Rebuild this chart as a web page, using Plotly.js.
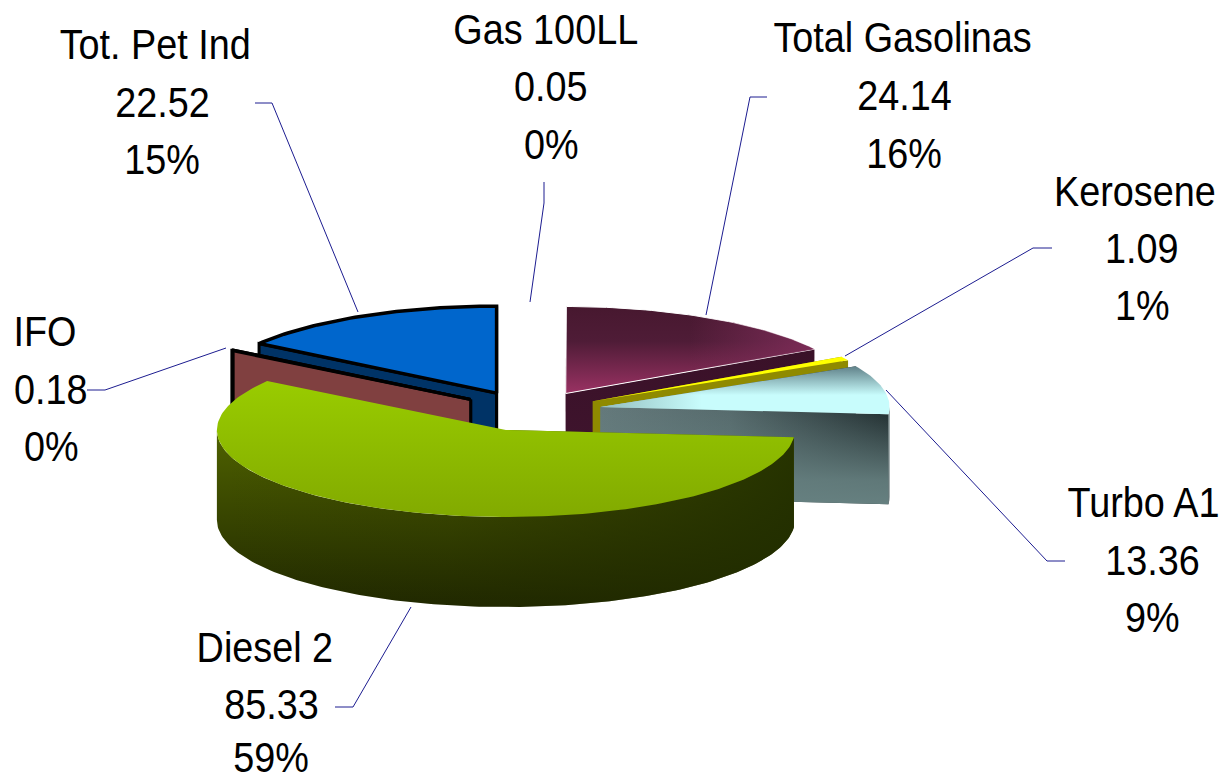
<!DOCTYPE html>
<html><head><meta charset="utf-8">
<script src="https://cdn.plot.ly/plotly-3.0.0.min.js"></script>
<style>html,body{margin:0;padding:0;background:#fff}#chart{width:1225px;height:780px}</style>
</head><body><div id="chart"></div>
<script>
// ---- data ----
const categories = ['Gas 100LL','Total Gasolinas','Kerosene','Turbo A1','Diesel 2','IFO','Tot. Pet Ind'];
const values     = [0.05, 24.14, 1.09, 13.36, 85.33, 0.18, 22.52];
const valueLabels= ['0.05','24.14','1.09','13.36','85.33','0.18','22.52'];
const percents   = ['0%','16%','1%','9%','59%','0%','15%'];

// ---- label placement ----
const nameX  = [546, 902, 1135, 1143, 265, 45, 155];
const valueX = [551, 904, 1142, 1152, 271, 51, 162];
const lineY  = [[29,86,144],[37,95,153],[191,248,305],[502,560,617],[647,704,757],[331,389,446],[44,102,159]];

// ---- leader lines ----
const leaderX = [[544,544,530],[767,750,706],[1052,1033,845],[1065,1047,886],[335,353,411],[87,105,226],[255,272,358]];
const leaderY = [[182,203,302],[97,97,315],[248,248,356],[561,561,390],[707,707,607],[390,390,348],[103,103,312]];

// ---- pie geometry ----
const cx=530, cy=411, rx=289, ry=87, depth=90, explode=72, tiltPull=0.28;

// ---- styles by slice: colour stops run from screen top to bottom ----
const topFill = [
 {color:'#ffffff'},
 {grad:[[0,'#47182f'],[0.4,'#4f1c37'],[1,'#9a3263']], line:'#ffffff', lw:1,
  over:[[0,'rgba(122,44,85,0)'],[0.5,'rgba(122,44,85,0)'],[1,'rgba(125,44,88,0.95)']]},
 {color:'#ffff00'},
 {grad:[[0,'#5f8088'],[0.6,'#c8fcfc'],[1,'#c8fcfc']],
  over:[[0,'rgba(130,170,172,0.75)'],[0.35,'rgba(130,170,172,0)'],[1,'rgba(130,170,172,0)']]},
 {grad:[[0,'#99cc00'],[1,'#82aa00']]},
 {color:'#000000', line:'#000000', lw:3},
 {color:'#0066cc', line:'#000000', lw:3.5}
];
const wallFill = [
 {color:'#ffffff'},
 {grad:[[0,'#3a1128'],[1,'#40152f']]},
 {color:'#8f8a00'},
 {hgrad:[[0,'#64797b'],[0.45,'#566a6c'],[1,'#1f2b2d']],
  vover:[[0,'rgba(102,128,128,0)'],[0.75,'rgba(102,128,128,0.9)'],[1,'rgba(102,128,128,1)']]},
 {grad:[[0,'#4f6200'],[0.4,'#3c4a00'],[1,'#202800']]},
 {color:'#804040', line:'#000000', lw:3},
 {color:'#003366', line:'#000000', lw:3}
];
const rimFill = {3:{color:'#566a6c'}};

// ---- build polygons from values ----
const total = values.reduce((a,b)=>a+b,0);
const traces=[];
const flip=c=>c.map(([p,k])=>[1-p,k]).reverse();   // gradient 0 sits at the smallest y value
function base(){return {type:'scatter',mode:'lines',fill:'toself',hoverinfo:'skip',showlegend:false};}
function add(xs,ys,s,name){
  const t=Object.assign(base(),{x:xs,y:ys,name:name,line:{width:s.lw||0,color:s.line||'rgba(0,0,0,0)'}});
  if(s.grad) t.fillgradient={type:'vertical',colorscale:flip(s.grad)};
  else if(s.hgrad) t.fillgradient={type:'horizontal',colorscale:s.hgrad};
  else t.fillcolor=s.color;
  traces.push(t);
  const none={width:0,color:'rgba(0,0,0,0)'};
  if(s.over)  traces.push(Object.assign(base(),{x:xs,y:ys,line:none,fillgradient:{type:'horizontal',colorscale:s.over}}));
  if(s.vover) traces.push(Object.assign(base(),{x:xs,y:ys,line:none,fillgradient:{type:'vertical',colorscale:flip(s.vover)}}));
}
function arc(a0,a1,ax,ay,dy){
  const xs=[],ys=[],n=Math.max(2,Math.ceil((a1-a0)/0.02));
  for(let i=0;i<=n;i++){const a=a0+(a1-a0)*i/n;xs.push(ax+rx*Math.sin(a));ys.push(ay-ry*Math.cos(a)+dy);}
  return [xs,ys];
}

let cum=0; const spans=values.map(v=>{const a0=cum/total*2*Math.PI;cum+=v;return [a0,cum/total*2*Math.PI];});
const order=[0,1,6,5,2,3,4];
order.forEach(i=>{
  if(i===0) return;               // the 0.05 sliver is too thin to show
  const [a0,a1]=spans[i], mid=(a0+a1)/2;
  const ax=cx+explode*Math.sin(mid), ay=cy-explode*tiltPull*Math.cos(mid);
  const [tx,ty]=arc(a0,a1,ax,ay,0);
  const name=categories[i];
  // radial side faces
  [a0,a1].forEach(a=>{
    if(i===4 && a===a1) return;
    const ex=ax+rx*Math.sin(a), ey=ay-ry*Math.cos(a);
    add([ax,ex,ex,ax,ax],[ay,ey,ey+depth,ay+depth,ay],wallFill[i],name);
  });
  // outer rim, only where it faces the viewer
  const f0=Math.max(a0,Math.PI/2), f1=Math.min(a1,1.5*Math.PI);
  if(f1>f0){
    const [ux,uy]=arc(f0,f1,ax,ay,0),[lx,ly]=arc(f0,f1,ax,ay,depth);
    const px=ux.concat(lx.slice().reverse(),[ux[0]]), py=uy.concat(ly.slice().reverse(),[uy[0]]);
    add(px,py,rimFill[i]||wallFill[i],name);
    if(i===4){
      traces.push(Object.assign(base(),{x:px,y:py,line:{width:0,color:'rgba(0,0,0,0)'},
        fillgradient:{type:'horizontal',colorscale:[[0,'rgba(32,40,0,0)'],[0.4,'rgba(32,40,0,0.1)'],[1,'rgba(32,44,0,0.85)']]}}));
    }
  }
  add([ax].concat(tx,[ax]),[ay].concat(ty,[ay]),topFill[i],name);
});

// ---- labels ----
const annotations=[];
categories.forEach((c,i)=>{
  [c,valueLabels[i],percents[i]].forEach((t,j)=>{
    annotations.push({x:j===0?nameX[i]:valueX[i],y:lineY[i][j],xref:'x',yref:'y',text:t,showarrow:false,
      xanchor:'center',yanchor:'middle',font:{family:'"Liberation Sans",Arial,sans-serif',size:42,color:'#000'}});
  });
});
const shapes=leaderX.map((xs,i)=>({type:'path',xref:'x',yref:'y',
  path:'M'+xs.map((x,k)=>x+' '+leaderY[i][k]).join(' L '),line:{color:'#1c1c90',width:1}}));

const layout={width:1225,height:780,margin:{l:0,r:0,t:0,b:0},paper_bgcolor:'#fff',plot_bgcolor:'#fff',showlegend:false,
  xaxis:{range:[0,1225],visible:false,fixedrange:true},
  yaxis:{range:[780,0],visible:false,fixedrange:true},
  annotations:annotations,shapes:shapes};

Plotly.newPlot('chart',traces,layout,{displayModeBar:false,staticPlot:true}).then(()=>{
  // the source text is drawn slightly condensed
  document.querySelectorAll('.annotation-text').forEach(t=>{
    const x=parseFloat(t.getAttribute('x'))||0;
    t.setAttribute('transform','translate('+x+' 0) scale(0.9 1) translate('+(-x)+' 0)');
  });
});
</script></body></html>
